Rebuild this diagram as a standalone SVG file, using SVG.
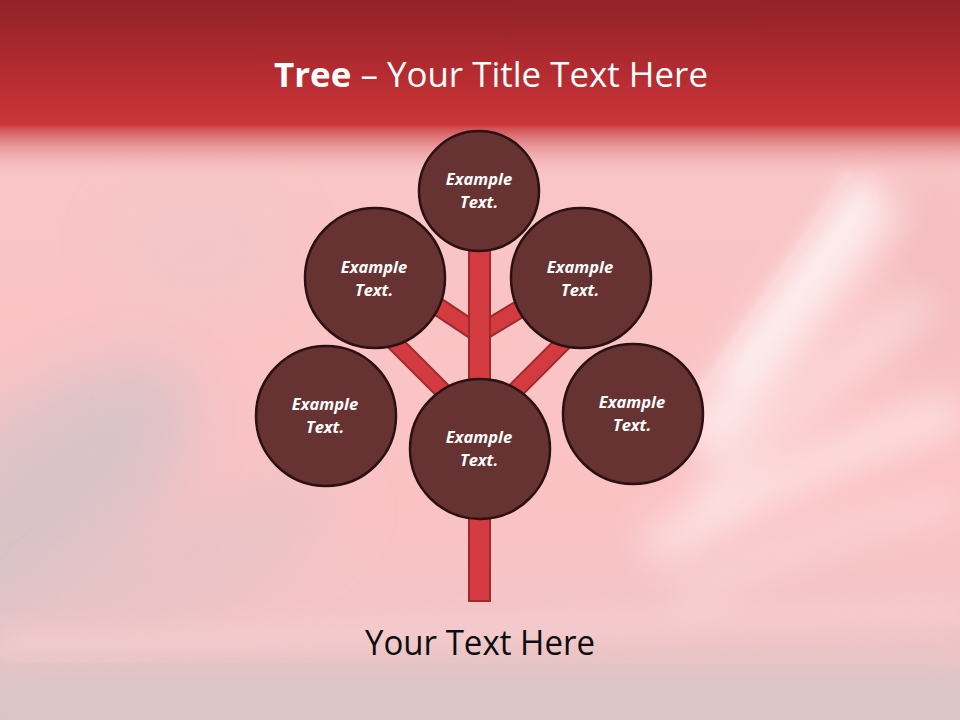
<svg xmlns="http://www.w3.org/2000/svg" width="960" height="720" viewBox="0 0 960 720">
  <defs>
    <linearGradient id="bg" x1="0" y1="0" x2="0" y2="1">
      <stop offset="0" stop-color="#f4b6b8"/>
      <stop offset="0.25" stop-color="#f9c5c6"/>
      <stop offset="0.7" stop-color="#fbc2c4"/>
      <stop offset="0.86" stop-color="#f3c4c6"/>
      <stop offset="1" stop-color="#dcc3c6"/>
    </linearGradient>
    <linearGradient id="band" x1="0" y1="0" x2="0" y2="1">
      <stop offset="0" stop-color="#912328"/>
      <stop offset="0.55" stop-color="#b32b30"/>
      <stop offset="1" stop-color="#cd3539"/>
    </linearGradient>
    <linearGradient id="fade" x1="0" y1="0" x2="0" y2="1">
      <stop offset="0" stop-color="#d0464a" stop-opacity="1"/>
      <stop offset="0.4" stop-color="#e38c8e" stop-opacity="0.8"/>
      <stop offset="1" stop-color="#f6bfc0" stop-opacity="0"/>
    </linearGradient>
    <filter id="blur30" x="-50%" y="-50%" width="200%" height="200%">
      <feGaussianBlur stdDeviation="30"/>
    </filter>
    <filter id="blur18" x="-50%" y="-50%" width="200%" height="200%">
      <feGaussianBlur stdDeviation="18"/>
    </filter>
    <filter id="blur12" x="-50%" y="-50%" width="200%" height="200%">
      <feGaussianBlur stdDeviation="12"/>
    </filter>
    <filter id="blur3" x="-50%" y="-50%" width="200%" height="200%">
      <feGaussianBlur stdDeviation="3"/>
    </filter>
  </defs>
  <style>
    .node circle { fill: #673332; stroke: #2b1111; stroke-width: 2.5; }
    .node text { font-family: "Open Sans", "Liberation Sans", sans-serif; font-weight: bold; font-style: italic; font-size: 16.5px; fill: #ffffff; text-anchor: middle; }
    .br-out { stroke: #9f2a2e; stroke-linecap: butt; fill: none; }
    .br-in { stroke: #d33b40; stroke-linecap: butt; fill: none; }
  </style>

  <!-- background -->
  <rect x="0" y="0" width="960" height="720" fill="url(#bg)"/>
  <g id="background-effects">
    <ellipse cx="40" cy="500" rx="190" ry="90" fill="#d8c3c7" opacity="0.9" transform="rotate(-40 40 500)" filter="url(#blur30)"/>
    <ellipse cx="190" cy="560" rx="160" ry="50" fill="#dfc3c6" opacity="0.6" transform="rotate(-25 190 560)" filter="url(#blur30)"/>
    <ellipse cx="200" cy="250" rx="80" ry="50" fill="#eac8c9" opacity="0.5" filter="url(#blur30)"/>
    <rect x="0" y="672" width="960" height="48" fill="#dcc5c7" filter="url(#blur12)"/>
    <path d="M0,645 C250,640 600,625 960,610" stroke="#f9d2d4" stroke-width="18" fill="none" opacity="0.7" filter="url(#blur12)"/>
    <ellipse cx="935" cy="280" rx="35" ry="110" fill="#efb6b8" opacity="0.6" filter="url(#blur30)"/>
    <path d="M880,195 L700,450" stroke="#ffffff" stroke-width="55" opacity="0.6" filter="url(#blur18)"/>
    <path d="M870,185 L730,380" stroke="#ffffff" stroke-width="20" opacity="0.5" filter="url(#blur12)"/>
    <path d="M850,170 L640,480" stroke="#ffffff" stroke-width="3" opacity="0.35" filter="url(#blur3)"/>
    <path d="M960,410 C860,440 760,490 650,550" stroke="#ffffff" stroke-width="40" fill="none" opacity="0.45" filter="url(#blur18)"/>
    <path d="M960,500 C860,520 770,550 680,600" stroke="#ffffff" stroke-width="25" fill="none" opacity="0.3" filter="url(#blur18)"/>
    <path d="M930,300 C840,360 770,430 700,510" stroke="#ffffff" stroke-width="35" fill="none" opacity="0.35" filter="url(#blur18)"/>
  </g>
  <rect x="0" y="0" width="960" height="128" fill="url(#band)"/>
  <rect x="0" y="126" width="960" height="50" fill="url(#fade)"/>

  <!-- connectors: trunk and branches -->
  <g id="connectors">
    <line class="br-out" x1="479" y1="334" x2="410" y2="288" stroke-width="19"/>
    <line class="br-in" x1="479" y1="334" x2="410" y2="288" stroke-width="15"/>
    <line class="br-out" x1="480" y1="333" x2="548" y2="292" stroke-width="19"/>
    <line class="br-in" x1="480" y1="333" x2="548" y2="292" stroke-width="15"/>
    <line class="br-out" x1="479" y1="427" x2="385" y2="333" stroke-width="18"/>
    <line class="br-in" x1="479" y1="427" x2="385" y2="333" stroke-width="14"/>
    <line class="br-out" x1="479" y1="427" x2="573" y2="333" stroke-width="18"/>
    <line class="br-in" x1="479" y1="427" x2="573" y2="333" stroke-width="14"/>
    <rect id="trunk" x="469" y="240" width="21" height="361" fill="#d33b40" stroke="#9f2a2e" stroke-width="2"/>
  </g>

  <!-- nodes -->
  <g id="node-top" class="node">
    <circle cx="479" cy="191" r="60"/>
    <text x="479" y="185">Example</text>
    <text x="479" y="208">Text.</text>
  </g>
  <g id="node-upper-left" class="node">
    <circle cx="375" cy="278" r="70"/>
    <text x="374" y="273">Example</text>
    <text x="374" y="296">Text.</text>
  </g>
  <g id="node-upper-right" class="node">
    <circle cx="581" cy="278" r="70"/>
    <text x="580" y="273">Example</text>
    <text x="580" y="296">Text.</text>
  </g>
  <g id="node-lower-left" class="node">
    <circle cx="326" cy="416" r="70"/>
    <text x="325" y="410">Example</text>
    <text x="325" y="433">Text.</text>
  </g>
  <g id="node-center" class="node">
    <circle cx="480" cy="449" r="70"/>
    <text x="479" y="443">Example</text>
    <text x="479" y="466">Text.</text>
  </g>
  <g id="node-lower-right" class="node">
    <circle cx="633" cy="414" r="70"/>
    <text x="632" y="408">Example</text>
    <text x="632" y="431">Text.</text>
  </g>

  <!-- title and footer -->
  <text id="title" x="274" y="87" textLength="434" lengthAdjust="spacingAndGlyphs" font-family="'Open Sans', 'Liberation Sans', sans-serif" font-size="34" fill="#ffffff"><tspan font-weight="bold">Tree</tspan> – Your Title Text Here</text>
  <text id="footer" x="365" y="655" textLength="230" lengthAdjust="spacingAndGlyphs" font-family="'Open Sans', 'Liberation Sans', sans-serif" font-size="34" fill="#0d0d0d">Your Text Here</text>
</svg>
